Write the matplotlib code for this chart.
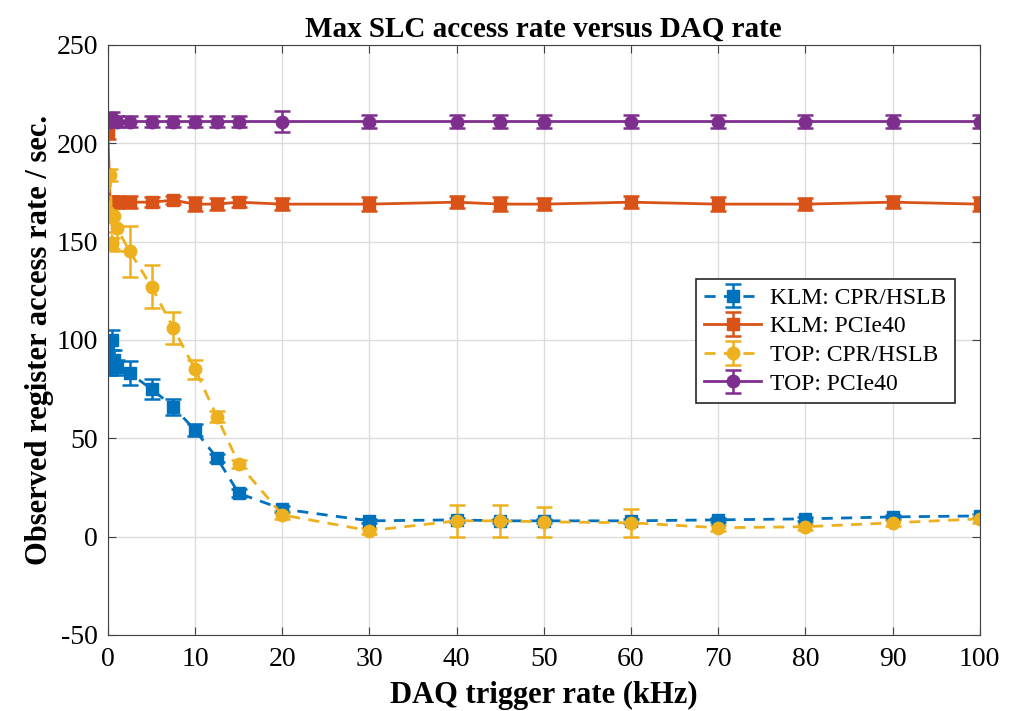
import matplotlib.pyplot as plt

# DAQ trigger rate (kHz) and observed register access rates (per sec.)
klm_cpr_x = [0, 0.25, 0.5, 0.75, 1, 2.5, 5, 7.5, 10, 12.5, 15, 20, 30, 40, 45, 50, 60, 70, 80, 90, 100]
klm_cpr_y = [94, 86, 100, 90, 86, 83, 75, 66, 54, 40, 22, 14, 8, 8.5, 8, 8, 8, 8.5, 9, 10, 10.5]
klm_cpr_err = [8, 4, 5, 5, 4, 6, 5, 4, 3, 2, 2, 1.5, 1, 1, 1, 1, 1, 1, 1, 1, 1]

klm_pcie_x = [0, 0.25, 0.5, 1, 2.5, 5, 7.5, 10, 12.5, 15, 20, 30, 40, 45, 50, 60, 70, 80, 90, 100]
klm_pcie_y = [205, 170, 170, 170, 170, 170, 171, 169, 169, 170, 169, 169, 170, 169, 169, 170, 169, 169, 170, 169]
klm_pcie_err = [3, 3, 3, 3, 3, 2.5, 2, 3.5, 3, 2.5, 3, 3.5, 3, 3.5, 3, 3, 3.5, 3, 3, 3.5]

top_cpr_x = [0, 0.25, 0.5, 0.75, 1, 2.5, 5, 7.5, 10, 12.5, 15, 20, 30, 40, 45, 50, 60, 70, 80, 90, 100]
top_cpr_y = [165, 184, 149, 163, 157, 145, 127, 106, 85, 61, 37, 11, 3, 8, 8, 7.5, 7, 4.5, 5, 7, 9]
top_cpr_err = [5, 3, 3, 8, 12, 13, 11, 8, 5, 3, 2, 2, 1.5, 8, 8, 7.5, 7, 1.5, 1.5, 1.5, 2]

top_pcie_x = [0, 0.25, 0.5, 1, 2.5, 5, 7.5, 10, 12.5, 15, 20, 30, 40, 45, 50, 60, 70, 80, 90, 100]
top_pcie_y = [212, 211, 213, 211, 211, 211, 211, 211, 211, 211, 211, 211, 211, 211, 211, 211, 211, 211, 211, 211]
top_pcie_err = [3, 3, 3, 3, 3, 3, 3, 3, 3, 3, 5.5, 3.5, 3.5, 3.5, 3.5, 3.5, 3.5, 3.5, 3.5, 3.5]

labels = ["KLM: CPR/HSLB", "KLM: PCIe40", "TOP: CPR/HSLB", "TOP: PCIe40"]
colors = ["#0072BD", "#D95319", "#EDB120", "#7E2F8E"]

plt.rcParams["font.family"] = ["Liberation Serif", "DejaVu Serif"]
plt.rcParams["axes.unicode_minus"] = False

fig = plt.figure(figsize=(10.28, 7.11), dpi=100)
ax = fig.add_axes([0.105, 0.107, 0.848, 0.830])

series = [
    (klm_cpr_x, klm_cpr_y, klm_cpr_err, "s", True),
    (klm_pcie_x, klm_pcie_y, klm_pcie_err, "s", False),
    (top_cpr_x, top_cpr_y, top_cpr_err, "o", True),
    (top_pcie_x, top_pcie_y, top_pcie_err, "o", False),
]
for (x, y, err, mk, dashed), label, color in zip(series, labels, colors):
    eb = ax.errorbar(x, y, yerr=err, color=color, marker=mk,
                     markersize=9 if mk == "o" else 8, linewidth=2,
                     elinewidth=1.8, capsize=6, capthick=1.8, label=label)
    if dashed:
        eb[0].set_dashes((4, 3))

ax.set_xlim(0, 100)
ax.set_ylim(-50, 250)
ax.set_xticks(range(0, 101, 10))
ax.set_yticks(range(-50, 251, 50))
ax.grid(True, color="#dcdcdc", linewidth=1)
ax.set_axisbelow(True)
ax.tick_params(direction="in", top=True, right=True, labelsize=20,
               length=6, color="#404040")
ax.tick_params(axis="x", pad=9)
ax.tick_params(axis="y", pad=7)
for s in ax.spines.values():
    s.set_color("#404040")

ax.set_title("Max SLC access rate versus DAQ rate", fontsize=21,
             fontweight="bold", pad=6)
ax.set_xlabel("DAQ trigger rate (kHz)", fontsize=22, fontweight="bold", labelpad=6)
ax.set_ylabel("Observed register access rate / sec.", fontsize=22,
              fontweight="bold", labelpad=2)

leg = ax.legend(loc="center right", bbox_to_anchor=(0.985, 0.498), fontsize=17,
                fancybox=False, edgecolor="#262626", framealpha=1,
                handlelength=2.4, borderpad=0.35, labelspacing=0.3,
                handletextpad=0.4)
leg.get_frame().set_linewidth(1.2)

fig.savefig("out.png", dpi=100)
